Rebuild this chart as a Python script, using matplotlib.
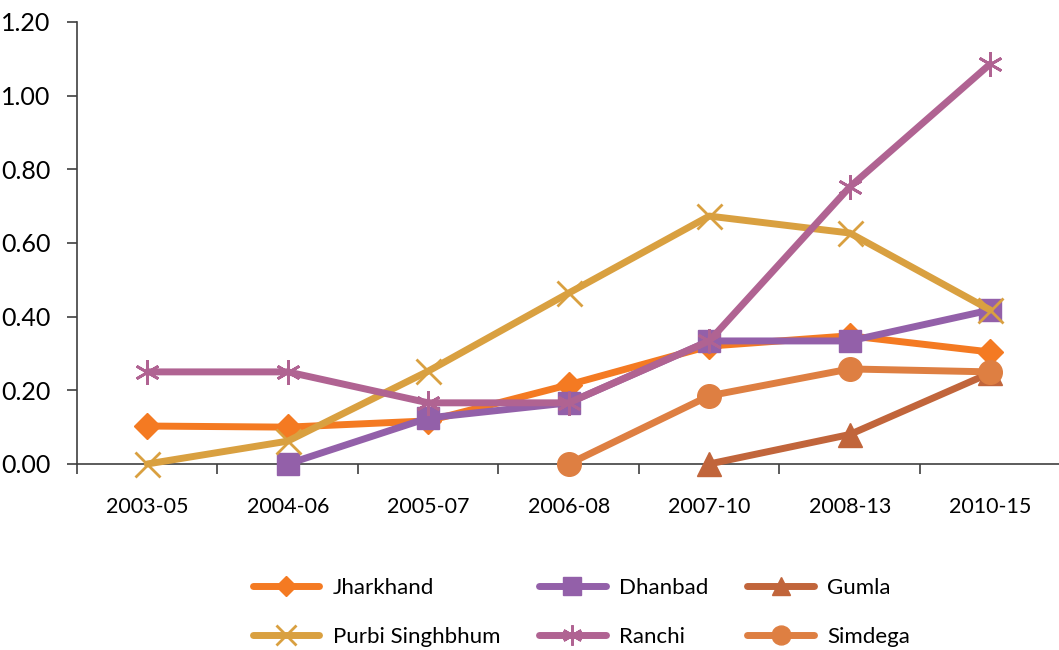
import numpy as np
import matplotlib.pyplot as plt

plt.rcParams['font.family'] = ['Lato', 'DejaVu Sans']

periods = ['2003-05', '2004-06', '2005-07', '2006-08', '2007-10', '2008-13', '2010-15']
nan = np.nan
jharkhand = [0.103, 0.100, 0.117, 0.215, 0.320, 0.348, 0.304]
dhanbad = [nan, 0.0, 0.125, 0.166, 0.334, 0.334, 0.418]
gumla = [nan, nan, nan, nan, 0.0, 0.080, 0.247]
purbi = [0.0, 0.062, 0.252, 0.464, 0.673, 0.627, 0.418]
ranchi = [0.250, 0.250, 0.166, 0.166, 0.334, 0.752, 1.086]
simdega = [nan, nan, nan, 0.0, 0.185, 0.258, 0.250]

fig = plt.figure(figsize=(10.59, 6.5), dpi=100)
ax = fig.add_axes([0.0727, 0.2862, 0.9287, 0.68])
x = np.arange(len(periods))
lw = 5
kw = dict(lw=lw, solid_capstyle='round', clip_on=False)

l1, = ax.plot(x, jharkhand, color='#F47A22', marker='D', ms=13, label='Jharkhand', **kw)
l2, = ax.plot(x, dhanbad, color='#9360A9', marker='s', ms=16, label='Dhanbad', **kw)
l3, = ax.plot(x, gumla, color='#C1653B', marker='^', ms=17, label='Gumla', **kw)
l4, = ax.plot(x, purbi, color='#D9A040', marker='x', ms=18, mew=2, label='Purbi Singhbhum', **kw)
l5, = ax.plot(x, ranchi, color='#B06392', marker=(6, 2, 0), ms=18, mew=2, label='Ranchi', **kw)
l6, = ax.plot(x, simdega, color='#DE7F42', marker='o', ms=17, label='Simdega', **kw)

ax.set_xlim(-0.5, 6.5)
ax.set_ylim(0, 1.2)
ax.set_yticks(np.arange(0, 1.21, 0.2))
ax.set_yticklabels(['%.2f' % v for v in np.arange(0, 1.21, 0.2)])
ax.set_xticks(x)
ax.set_xticklabels(periods)
ax.set_xticks(np.arange(-0.5, 6.6, 1), minor=True)
ax.tick_params(axis='x', which='major', length=0, pad=24, labelsize=15.5)
ax.tick_params(axis='x', which='minor', length=7, width=1.2, direction='out', color='#404040')
ax.tick_params(axis='y', length=7, width=1.2, direction='out', pad=12, labelsize=18, color='#404040')
for s in ['top', 'right']:
    ax.spines[s].set_visible(False)
for s in ['left', 'bottom']:
    ax.spines[s].set_color('#404040')
    ax.spines[s].set_linewidth(1.2)
ax.spines['bottom'].set_zorder(1)

# row-wise order for a column-filled legend
handles = [l1, l4, l2, l5, l3, l6]
fig.legend(handles=handles, labels=[h.get_label() for h in handles],
           loc='center', bbox_to_anchor=(0.549, 0.058), ncol=3, frameon=False,
           fontsize=16, handlelength=3.0, handletextpad=0.6, columnspacing=1.75,
           labelspacing=1.3, markerscale=0.8)

fig.savefig('out.png', dpi=100)
